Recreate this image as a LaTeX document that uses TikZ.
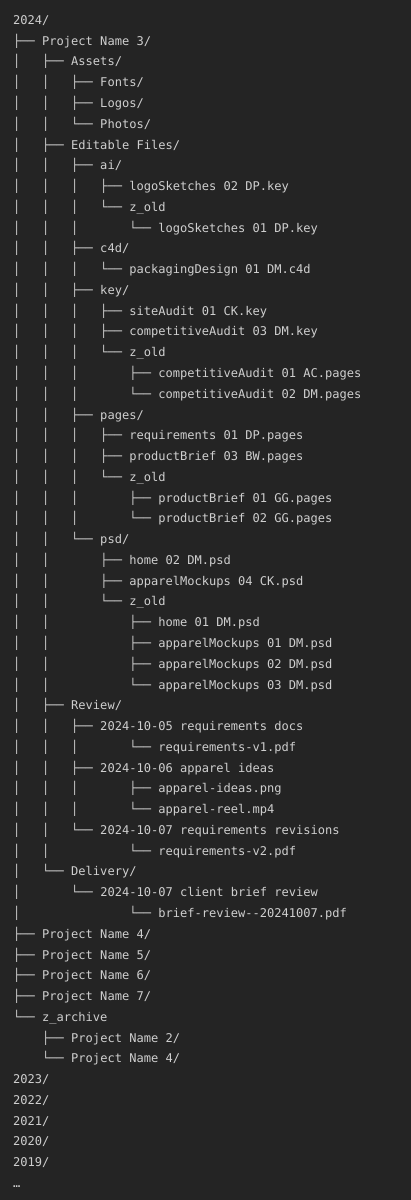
\documentclass[tikz,border=0pt]{standalone}
\usepackage{fontspec}
\newfontfamily\treemono{DejaVu Sans Mono}
\definecolor{bgc}{HTML}{242424}
\definecolor{txc}{HTML}{CFCFCF}
\newcommand\trV{│\ \ \ }
\newcommand\trS{\ \ \ \ }
\newcommand\trT{├──\ }
\newcommand\trL{└──\ }
\newcommand\row[2]{\node[treerow] (l#1) at (13pt,{-24.4pt-#1*20.77pt}) {#2};}
\tikzset{treerow/.style={anchor=base west, inner sep=0pt, text=txc,
  font=\treemono\fontsize{12.05}{14}\selectfont}}
\begin{document}
\begin{tikzpicture}
\path[fill=bgc] (0,0) rectangle (411pt,-1200pt);
\useasboundingbox (0,0) rectangle (411pt,-1200pt);
\row{0}{2024/}
\row{1}{\trT Project Name 3/}
\row{2}{\trV\trT Assets/}
\row{3}{\trV\trV\trT Fonts/}
\row{4}{\trV\trV\trT Logos/}
\row{5}{\trV\trV\trL Photos/}
\row{6}{\trV\trT Editable Files/}
\row{7}{\trV\trV\trT ai/}
\row{8}{\trV\trV\trV\trT logoSketches 02 DP.key}
\row{9}{\trV\trV\trV\trL z\_old}
\row{10}{\trV\trV\trV\trS\trL logoSketches 01 DP.key}
\row{11}{\trV\trV\trT c4d/}
\row{12}{\trV\trV\trV\trL packagingDesign 01 DM.c4d}
\row{13}{\trV\trV\trT key/}
\row{14}{\trV\trV\trV\trT siteAudit 01 CK.key}
\row{15}{\trV\trV\trV\trT competitiveAudit 03 DM.key}
\row{16}{\trV\trV\trV\trL z\_old}
\row{17}{\trV\trV\trV\trS\trT competitiveAudit 01 AC.pages}
\row{18}{\trV\trV\trV\trS\trL competitiveAudit 02 DM.pages}
\row{19}{\trV\trV\trT pages/}
\row{20}{\trV\trV\trV\trT requirements 01 DP.pages}
\row{21}{\trV\trV\trV\trT productBrief 03 BW.pages}
\row{22}{\trV\trV\trV\trL z\_old}
\row{23}{\trV\trV\trV\trS\trT productBrief 01 GG.pages}
\row{24}{\trV\trV\trV\trS\trL productBrief 02 GG.pages}
\row{25}{\trV\trV\trL psd/}
\row{26}{\trV\trV\trS\trT home 02 DM.psd}
\row{27}{\trV\trV\trS\trT apparelMockups 04 CK.psd}
\row{28}{\trV\trV\trS\trL z\_old}
\row{29}{\trV\trV\trS\trS\trT home 01 DM.psd}
\row{30}{\trV\trV\trS\trS\trT apparelMockups 01 DM.psd}
\row{31}{\trV\trV\trS\trS\trT apparelMockups 02 DM.psd}
\row{32}{\trV\trV\trS\trS\trL apparelMockups 03 DM.psd}
\row{33}{\trV\trT Review/}
\row{34}{\trV\trV\trT 2024-10-05 requirements docs}
\row{35}{\trV\trV\trV\trS\trL requirements-v1.pdf}
\row{36}{\trV\trV\trT 2024-10-06 apparel ideas}
\row{37}{\trV\trV\trV\trS\trT apparel-ideas.png}
\row{38}{\trV\trV\trV\trS\trL apparel-reel.mp4}
\row{39}{\trV\trV\trL 2024-10-07 requirements revisions}
\row{40}{\trV\trV\trS\trS\trL requirements-v2.pdf}
\row{41}{\trV\trL Delivery/}
\row{42}{\trV\trS\trL 2024-10-07 client brief review}
\row{43}{\trV\trS\trS\trS\trL brief-review-{}-20241007.pdf}
\row{44}{\trT Project Name 4/}
\row{45}{\trT Project Name 5/}
\row{46}{\trT Project Name 6/}
\row{47}{\trT Project Name 7/}
\row{48}{\trL z\_archive}
\row{49}{\trS\trT Project Name 2/}
\row{50}{\trS\trL Project Name 4/}
\row{51}{2023/}
\row{52}{2022/}
\row{53}{2021/}
\row{54}{2020/}
\row{55}{2019/}
\row{56}{…}
\end{tikzpicture}
\end{document}
